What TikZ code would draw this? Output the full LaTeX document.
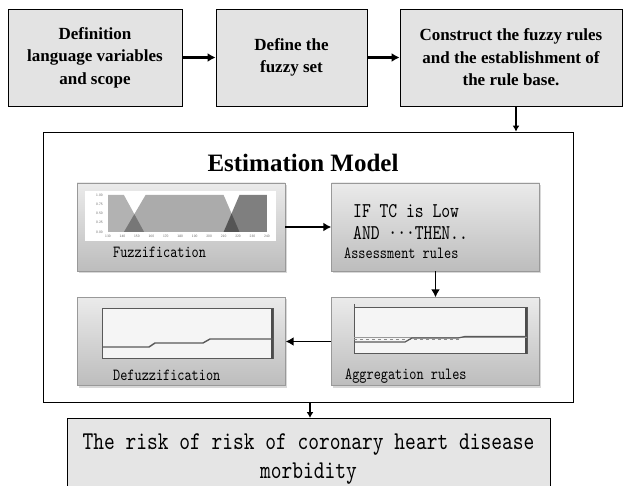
\documentclass[tikz,border=0pt]{standalone}
\usepackage{fontspec}
\setmainfont{Liberation Serif}
\newfontfamily\rulefont{lmmono10-regular.otf}[FakeStretch=0.8]
\usepackage{tikz}
\usetikzlibrary{arrows.meta,shadows,positioning,calc}

\begin{document}
\begin{tikzpicture}[
			x = 1pt, y = -1pt,
			>={Latex[length=8pt,width=9pt]},
			stepbox/.style = {draw, line width=0.8pt, fill=black!11, minimum height=97pt, inner sep=0pt, align=center, font=\fontsize{17}{22.5}\selectfont\bfseries},
			innerbox/.style = {draw=black!40, top color=black!8, bottom color=black!26, minimum width=208pt, minimum height=88pt, drop shadow={shadow xshift=1.5pt, shadow yshift=-2pt, opacity=0.3}},
			tag/.style = {anchor=base west, inner sep=0pt, font=\rulefont\fontsize{17}{20}\selectfont},
			ruletext/.style = {anchor=base west, inner sep=0pt, font=\rulefont\fontsize{21}{24}\selectfont},
			ticklbl/.style = {inner sep=0pt, text=black!60, font=\sffamily\fontsize{3.5}{4}\selectfont},
			declare function = {
				px(\v) = 108+1.445*(\v-130);
				py(\m) = 232-37*\m;
			}]

			\useasboundingbox (0,0) rectangle (624,486);

			\node[stepbox, minimum width=174pt] (define) at (95,57.5) {Definition\\language variables\\and scope};
			\node[stepbox, minimum width=151pt] (fuzzyset) at (291.5,57.5) {Define the\\fuzzy set};
			\node[stepbox, minimum width=222pt] (rules) at (511,57.5) {Construct the fuzzy rules\\and the establishment of\\the rule base.};

			\node[draw, line width=0.8pt, fill=white, minimum width=530pt, minimum height=270pt] (model) at (308,267) {};
			\node[anchor=base, inner sep=0pt, font=\fontsize{25}{30}\selectfont\bfseries] (title) at (303,172) {Estimation Model};

			\node[innerbox] (fuzz) at (181,227) {};
			\node[innerbox] (assess) at (435.5,227) {};
			\node[innerbox] (defuzz) at (181.5,341.5) {};
			\node[innerbox] (aggr) at (435.5,341.5) {};

			\fill[white] (85,191) rectangle (276,241);
			\fill[black, fill opacity=0.3] ({px(130)},{py(0)}) -- ({px(130)},{py(1)}) -- ({px(141)},{py(1)}) -- ({px(155)},{py(0)}) -- cycle;
			\fill[black, fill opacity=0.33] ({px(141)},{py(0)}) -- ({px(156)},{py(1)}) -- ({px(210)},{py(1)}) -- ({px(221)},{py(0)}) -- cycle;
			\fill[black, fill opacity=0.5] ({px(210)},{py(0)}) -- ({px(221)},{py(1)}) -- ({px(240)},{py(1)}) -- ({px(240)},{py(0)}) -- cycle;
			\foreach \m/\t [count=\i] in {0/0.00,0.25/0.25,0.5/0.50,0.75/0.75,1/1.00}
				\node[ticklbl, anchor=east] (yt\i) at ({px(130)-5},{py(\m)}) {\t};
			\foreach \v in {130,140,...,240}
				\node[ticklbl, anchor=north] (xt\v) at ({px(\v)},{py(0)+3}) {\v};

			\node[ruletext] (ifline) at (353,218) {IF TC is Low};
			\node[ruletext] (andline) at (353,240) {AND ···THEN..};

			\draw[black!65, line width=1pt, fill=black!4] (102,309) rectangle (273,359);
			\draw[black!70, line width=2.2pt] (272,309) -- (272,359);
			\draw[black!65, line width=1.4pt] (102,347) -- (149,347) -- (155,343) -- (203,343) -- (210,339) -- (273,339);

			\draw[black!65, line width=1pt, fill=black!4] (354,308) rectangle (527,354);
			\draw[black!70, line width=2pt] (526,308) -- (526,354);
			\draw[black!65, line width=0.8pt] (354,304) -- (354,308);
			\draw[black!40, line width=0.8pt] (354,337) -- (527,337);
			\draw[black!45, dashed, line width=0.6pt] (354,339.5) -- (460,339.5);
			\draw[black!65, line width=1.2pt] (354,342) -- (405,342) -- (412,338) -- (458,338) -- (465,336.5) -- (527,336.5);

			\node[tag] (fuzztag) at (113,258) {Fuzzification};
			\node[tag] (assesstag) at (344,259) {Assessment rules};
			\node[tag] (defuzztag) at (113,381) {Defuzzification};
			\node[tag] (aggrtag) at (345,380) {Aggregation rules};

			\node[draw, line width=0.8pt, fill=black!10, minimum width=483pt, minimum height=82pt, anchor=north, align=center, font=\rulefont\fontsize{25.6}{29}\selectfont] (risk) at (308.5,418) {The risk of risk of coronary heart disease\\morbidity};

			\draw[->, line width=2.6pt] (define) -- (fuzzyset);
			\draw[->, line width=2.6pt] (fuzzyset) -- (rules);
			\draw[->, line width=1.6pt, >={Latex[length=6pt,width=7pt]}] ([xshift=5pt]rules.south) -- ([xshift=5pt]rules.south |- model.north);
			\draw[->, line width=1.8pt] (fuzz.east) -- (fuzz.east -| assess.west);
			\draw[->, line width=1.8pt] (assess.south) -- (aggr.north);
			\draw[->, line width=1.8pt] (aggr.west) -- (defuzz.east);
			\draw[->, line width=2pt, >={Latex[length=6pt,width=7pt]}] ([xshift=2pt]model.south) -- ([xshift=2pt]model.south |- risk.north);

		\end{tikzpicture}
\end{document}
